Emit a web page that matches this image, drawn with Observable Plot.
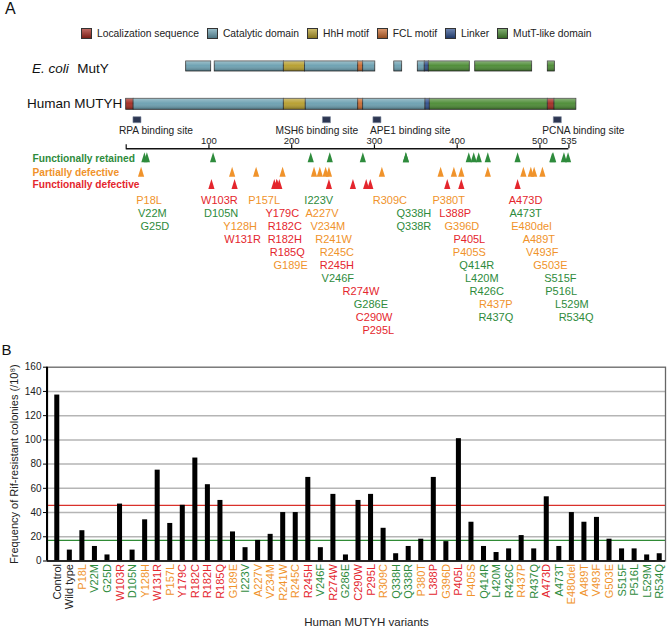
<!DOCTYPE html>
<html><head><meta charset="utf-8">
<script src="https://cdn.jsdelivr.net/npm/d3@7"></script>
<script src="https://cdn.jsdelivr.net/npm/@observablehq/plot@0.6"></script>
<style>
body{margin:0;background:#fff;font-family:"Liberation Sans",Arial,sans-serif;}
#wrap{position:relative;width:668px;height:629px;overflow:hidden;}
#headA{position:relative;height:50px;}
.plabel{position:absolute;font-size:16px;line-height:16px;color:#111;}
#legend{position:absolute;left:81px;top:28px;display:flex;align-items:center;font-size:10.3px;color:#222;white-space:nowrap;}
.sw{width:9px;height:9px;border:1px solid #333;margin-right:5px;}
.item{display:flex;align-items:center;margin-right:8px;}
svg{display:block}
</style></head>
<body><div id="wrap"><div id="headA"><span class="plabel" style="left:5px;top:1px">A</span><div id="legend"></div></div><div id="chartA"></div><div id="chartB"></div></div>
<script>
// ---------- DATA ----------
const domainNames = ["Localization sequence","Catalytic domain","HhH motif","FCL motif","Linker","MutT-like domain"];
const humanSegStart  = [0, 9, 190.5, 217, 280.4, 286.4, 361.7, 366.9, 509.5, 517.6];
const humanSegEnd    = [9, 190.5, 217, 280.4, 286.4, 361.7, 366.9, 509.5, 517.6, 544];
const humanSegDomain = ["Localization sequence","Catalytic domain","HhH motif","Catalytic domain","FCL motif","Catalytic domain","Linker","MutT-like domain","Localization sequence","MutT-like domain"];
const ecoliSegStart  = [72.5, 107, 190.5, 216, 280.4, 286.4, 324, 352.4, 360.8, 365.7, 421.8, 509.5];
const ecoliSegEnd    = [102.7, 190.5, 216, 280.4, 286.4, 301, 333.5, 360.8, 365.7, 415.2, 490.6, 518];
const ecoliSegDomain = ["Catalytic domain","Catalytic domain","HhH motif","Catalytic domain","FCL motif","Catalytic domain","Catalytic domain","Catalytic domain","Linker","MutT-like domain","MutT-like domain","MutT-like domain"];
const bindingSites = ["RPA binding site","MSH6 binding site","APE1 binding site","PCNA binding site"];
const bindingSiteCenter = [13, 242, 303, 521];
const rulerTicks = [0, 100, 200, 300, 400, 500, 535];
const rulerLabels = [100, 200, 300, 400, 500, 535];
const classKeys = ["retained","partial","defective"];
const classNames = ["Functionally retained","Partially defective","Functionally defective"];
const mutants = ["P18L","V22M","G25D","W103R","D105N","Y128H","W131R","P157L","Y179C","R182C","R182H","R185Q","G189E",
 "I223V","A227V","V234M","R241W","R245C","R245H","V246F","R274W","G286E","C290W","P295L","R309C","Q338H","Q338R",
 "P380T","L388P","G396D","P405L","P405S","Q414R","L420M","R426C","R437P","R437Q",
 "A473D","A473T","E480del","A489T","V493F","G503E","S515F","P516L","L529M","R534Q"];
const mutantClass = [
 "partial","retained","retained",
 "defective","retained","partial","defective",
 "partial","defective","defective","defective","defective","partial",
 "retained","partial","partial","partial","partial","defective","retained","defective","retained","defective","defective",
 "partial","retained","retained",
 "partial","defective","partial","defective","partial","retained","retained","retained","partial","retained",
 "defective","retained","partial","partial","partial","partial","retained","retained","retained","retained"];
const labelColumns = [
 ["P18L","V22M","G25D"],
 ["W103R","D105N","Y128H","W131R"],
 ["P157L","Y179C","R182C","R182H","R185Q","G189E"],
 ["I223V","A227V","V234M","R241W","R245C","R245H","V246F","R274W","G286E","C290W","P295L"],
 ["R309C","Q338H","Q338R"],
 ["P380T","L388P","G396D","P405L","P405S","Q414R","L420M","R426C","R437P","R437Q"],
 ["A473D","A473T","E480del","A489T","V493F","G503E","S515F","P516L","L529M","R534Q"]];
const barCategories = ["Control","Wild type", ...mutants];
const rifFrequency = [137, 9, 25, 12, 5, 47, 9, 34, 75, 31, 46, 85, 63, 50, 24, 11, 17, 22, 40, 40, 69, 11, 55, 5, 50, 55,
 27, 6, 12, 18, 69, 16, 101, 32, 12, 7, 10, 21, 10, 53, 12, 40, 32, 36, 18, 10, 10, 5, 6];
const thresholdDefective = 46;
const thresholdRetained = 17;
const yTicks = [0, 20, 40, 60, 80, 100, 120, 140, 160];

// ---------- STYLE ----------
const FONT = "'Liberation Sans', Arial, sans-serif";
const domainColors = ["#a3291f","#6a9fb0","#b59d2b","#c9692d","#2d4e8c","#4a8a32"];
const classColor = {retained:"#2e8b3c", partial:"#f0932b", defective:"#e4262d"};
const posOf = name => +name.match(/\d+/)[0];
const classOf = name => mutantClass[mutants.indexOf(name)];

// legend (HTML)
const legend = document.getElementById("legend");
domainNames.forEach((n,i) => {
  const it = document.createElement("div"); it.className = "item";
  const sw = document.createElement("div"); sw.className = "sw";
  sw.style.background = `linear-gradient(to bottom, rgba(255,255,255,0.3), rgba(0,0,0,0.25)), ${domainColors[i]}`;
  const tx = document.createElement("span"); tx.textContent = n;
  it.append(sw, tx); legend.append(it);
});

// ---------- PANEL A ----------
const HA = 285;
const L = {ecoli:[11,21], ecoliText:18, human:[48.3,59.3], humanText:53.3, site:69.2, siteText:80,
           rulerText:90, ruler:98.3, rowY:{retained:107.3, partial:121.7, defective:134}, label0:150, lineH:13};
const segs = (s,e,d) => s.map((v,i)=>({start:v, end:e[i], domain:d[i]}));
const human = segs(humanSegStart, humanSegEnd, humanSegDomain);
const ecoli = segs(ecoliSegStart, ecoliSegEnd, ecoliSegDomain);
const tri = {draw(ctx){ ctx.moveTo(0,-5.5); ctx.lineTo(3.1,4.5); ctx.lineTo(-3.1,4.5); ctx.closePath(); }};
const siteSym = {draw(ctx){ ctx.rect(-4,-3,8,6); }};
const triData = mutants.map((m,i)=>({name:m, pos:posOf(m), cls:mutantClass[i]}));
const labelData = labelColumns.flatMap(col => col.map((m,r)=>({name:m, pos:posOf(m), row:r, cls:classOf(m)})));
const siteShift = [-18, -51, -7, -15];

const barMarks = (data, yy) => [
  Plot.rect(data, {x1:"start", x2:"end", y1:()=>yy[0], y2:()=>yy[1], fill:"domain", stroke:"#2a2a2a", strokeWidth:0.8}),
  Plot.rect(data, {x1:"start", x2:"end", y1:()=>yy[0], y2:()=>yy[1], fill:"url(#barShade)"})
];

const chartA = Plot.plot({
  width:668, height:HA, marginLeft:125.7, marginRight:99.6, marginTop:0, marginBottom:0,
  style:{fontFamily:FONT, background:"white", overflow:"visible"},
  x:{domain:[0,535], range:[125.7,568.4], axis:null},
  y:{domain:[0,HA], range:[0,HA], axis:null},
  color:{domain:domainNames, range:domainColors},
  marks:[
    ...barMarks(ecoli, L.ecoli),
    ...barMarks(human, L.human),
    Plot.text(["MutY"], {frameAnchor:"left", y:()=>L.ecoliText, dx:-17.4, textAnchor:"end", lineAnchor:"middle", fontSize:13.5, fill:"#111"}),
    Plot.text(["E. coli"], {frameAnchor:"left", y:()=>L.ecoliText, dx:-57.4, textAnchor:"end", lineAnchor:"middle", fontSize:13.5, fontStyle:"italic", fill:"#111"}),
    Plot.text(["Human MUTYH"], {frameAnchor:"left", y:()=>L.humanText, dx:-4, textAnchor:"end", lineAnchor:"middle", fontSize:13.5, fill:"#111"}),
    Plot.dot(bindingSiteCenter, {x:d=>d, y:()=>L.site, symbol:siteSym, fill:"#2c3652", stroke:"#7c869a", strokeWidth:0.6}),
    ...bindingSites.map((s,i)=>Plot.text([s], {x:()=>bindingSiteCenter[i], y:()=>L.siteText, dx:siteShift[i], textAnchor:"start", fontSize:10.2, fill:"#222"})),
    Plot.ruleY([L.ruler], {y:d=>d, x1:()=>rulerTicks[0], x2:()=>rulerTicks[rulerTicks.length-1], stroke:"#111", strokeWidth:1.4}),
    Plot.ruleX(rulerTicks, {x:d=>d, y1:()=>L.ruler-4, y2:()=>L.ruler, stroke:"#111", strokeWidth:1.2}),
    Plot.text(rulerLabels, {x:d=>d, y:()=>L.rulerText, text:d=>String(d), fontSize:9.5, fill:"#222"}),
    ...classKeys.map((k,i)=>Plot.text([classNames[i]], {frameAnchor:"left", y:()=>L.rowY[k]+0.5, dx:-93.7, textAnchor:"start", lineAnchor:"middle", fontSize:10.2, fontWeight:"bold", fill:classColor[k]})),
    Plot.dot(triData, {x:"pos", y:d=>L.rowY[d.cls], symbol:tri, fill:d=>classColor[d.cls], stroke:"none"}),
    Plot.text(labelData, {x:"pos", y:d=>L.label0 + d.row*L.lineH, text:"name", dx:8, fontSize:11, fill:d=>classColor[d.cls]})
  ]
});
d3.select(chartA).insert("defs", ":first-child").html(
  `<linearGradient id="barShade" x1="0" y1="0" x2="0" y2="1"><stop offset="0" stop-color="#fff" stop-opacity="0.35"/><stop offset="0.45" stop-color="#fff" stop-opacity="0.05"/><stop offset="1" stop-color="#000" stop-opacity="0.3"/></linearGradient>`);
document.getElementById("chartA").append(chartA);

// ---------- PANEL B ----------
const HB = 294, mB = {top:31.7, bottom:68.5, left:47, right:3};
const labelFill = d => (d === "Control" || d === "Wild type") ? "#222" : classColor[classOf(d)];
const chartB = Plot.plot({
  width:668, height:HB, marginTop:mB.top, marginBottom:mB.bottom, marginLeft:mB.left, marginRight:mB.right,
  style:{fontFamily:FONT, background:"white", overflow:"visible"},
  x:{domain:barCategories, paddingInner:0.6, paddingOuter:0.42, align:0.69, round:false, axis:null},
  y:{domain:[0,160], axis:null},
  marks:[
    Plot.ruleY(yTicks.slice(1,-1), {stroke:"#b5b5b5", strokeWidth:1.5}),
    Plot.ruleY([thresholdDefective], {stroke:"#d9312b", strokeWidth:1.2}),
    Plot.ruleY([thresholdRetained], {stroke:"#2f8a35", strokeWidth:1.2}),
    Plot.barY(barCategories, {x:d=>d, y:(d,i)=>rifFrequency[i], fill:"black"}),
    Plot.frame({stroke:"#666", strokeWidth:1.3}),
    Plot.ruleY([0], {stroke:"black", strokeWidth:1.6}),
    Plot.axisY({ticks:yTicks, tickSize:4, tickPadding:2, fontSize:10, label:null, fill:"#222"}),
    Plot.text(barCategories, {x:d=>d, text:d=>d, frameAnchor:"bottom", rotate:-90, textAnchor:"end", lineAnchor:"middle", dy:3, fontSize:11, fill:labelFill}),
    Plot.text(["Frequency of Rif-resistant colonies (/10\u2078)"], {frameAnchor:"left", dx:-33, rotate:-90, textAnchor:"middle", lineAnchor:"middle", fontSize:11, fill:"#222"}),
    Plot.text(["Human MUTYH variants"], {frameAnchor:"bottom", dy:61, dx:10, lineAnchor:"middle", fontSize:11.5, fill:"#222"}),
    Plot.text(["B"], {frameAnchor:"top-left", dx:-41, dy:-17, textAnchor:"middle", lineAnchor:"middle", fontSize:15, fill:"#111"})
  ]
});
d3.select(chartB).append("line").attr("x1",mB.left).attr("x2",mB.left).attr("y1",mB.top).attr("y2",HB-mB.bottom)
  .attr("stroke","black").attr("stroke-width",2);
document.getElementById("chartB").append(chartB);
</script>
</body></html>
